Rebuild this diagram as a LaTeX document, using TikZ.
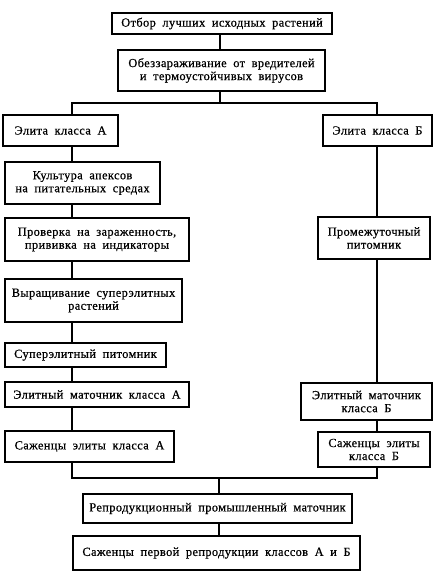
\documentclass[tikz,border=0pt]{standalone}
\usepackage{fontspec}
\setmainfont{Liberation Serif}[WordSpace=1.9,LetterSpace=3,FakeBold=0.6]
\begin{document}
\begin{tikzpicture}[x=1pt,y=-1pt,
  box/.style={draw,line width=1.5pt,align=center,inner sep=0pt,font=\fontsize{12.4}{13}\selectfont},
  link/.style={line width=1.5pt}]
\useasboundingbox (0,0) rectangle (434,580);
\coordinate (lx) at (72,0);
\coordinate (rx) at (377,0);
\coordinate (cx) at (220,0);
\coordinate (split) at (220,103);
\coordinate (merge) at (219,478);
\node[box,minimum width=220,minimum height=21] (b1) at (222,23.5) {Отбор лучших исходных растений};
\node[box,minimum width=207,minimum height=41] (b2) at (221.5,70.5) {Обеззараживание от вредителей\\и термоустойчивых вирусов};
\node[box,minimum width=115,minimum height=31] (eA) at (60.5,130.5) {Элита класса А};
\node[box,minimum width=109,minimum height=31] (eB) at (377.5,130.5) {Элита класса Б};
\node[box,minimum width=155,minimum height=42] (cult) at (82.5,183) {Культура апексов\\на питательных средах};
\node[box,minimum width=184,minimum height=43] (prov) at (97,239.5) {Проверка на зараженность,\\прививка на индикаторы};
\node[box,minimum width=177,minimum height=43] (vyr) at (93.5,300.5) {Выращивание суперэлитных\\растений};
\node[box,minimum width=112,minimum height=42] (prom) at (374,238) {Промежуточный\\питомник};
\node[box,minimum width=161,minimum height=24] (sup) at (85.5,355) {Суперэлитный питомник};
\node[box,minimum width=184,minimum height=25] (emA) at (97,394.5) {Элитный маточник класса А};
\node[box,minimum width=169,minimum height=31] (sA) at (89.5,446.5) {Саженцы элиты класса А};
\node[box,minimum width=131,minimum height=37] (emB) at (366.5,401.5) {Элитный маточник\\класса Б};
\node[box,minimum width=112,minimum height=35] (sB) at (374,449.5) {Саженцы элиты\\класса Б};
\node[box,minimum width=269,minimum height=29] (rep) at (217.5,508.5) {Репродукционный промышленный маточник};
\node[box,minimum width=287,minimum height=34] (sp) at (216.5,553) {Саженцы первой репродукции классов А и Б};
\draw[link] (b1.south -| cx) -- (b2.north -| cx);
\draw[link] (b2.south -| cx) -- (split);
\draw[link] (eA.north -| lx) |- (split) -| (eB.north -| rx);
\draw[link] (eA.south -| lx) -- (cult.north -| lx);
\draw[link] (cult.south -| lx) -- (prov.north -| lx);
\draw[link] (prov.south -| lx) -- (vyr.north -| lx);
\draw[link] (vyr.south -| lx) -- (sup.north -| lx);
\draw[link] (sup.south -| lx) -- (emA.north -| lx);
\draw[link] (emA.south -| lx) -- (sA.north -| lx);
\draw[link] (eB.south -| rx) -- (prom.north -| rx);
\draw[link] (prom.south -| rx) -- (emB.north -| rx);
\draw[link] (emB.south -| rx) -- (sB.north -| rx);
\draw[link] (sA.south -| lx) |- (merge) -| (sB.south -| rx);
\draw[link] (merge) -- (rep.north -| merge);
\draw[link] (rep.south -| merge) -- (sp.north -| merge);
\end{tikzpicture}
\end{document}
